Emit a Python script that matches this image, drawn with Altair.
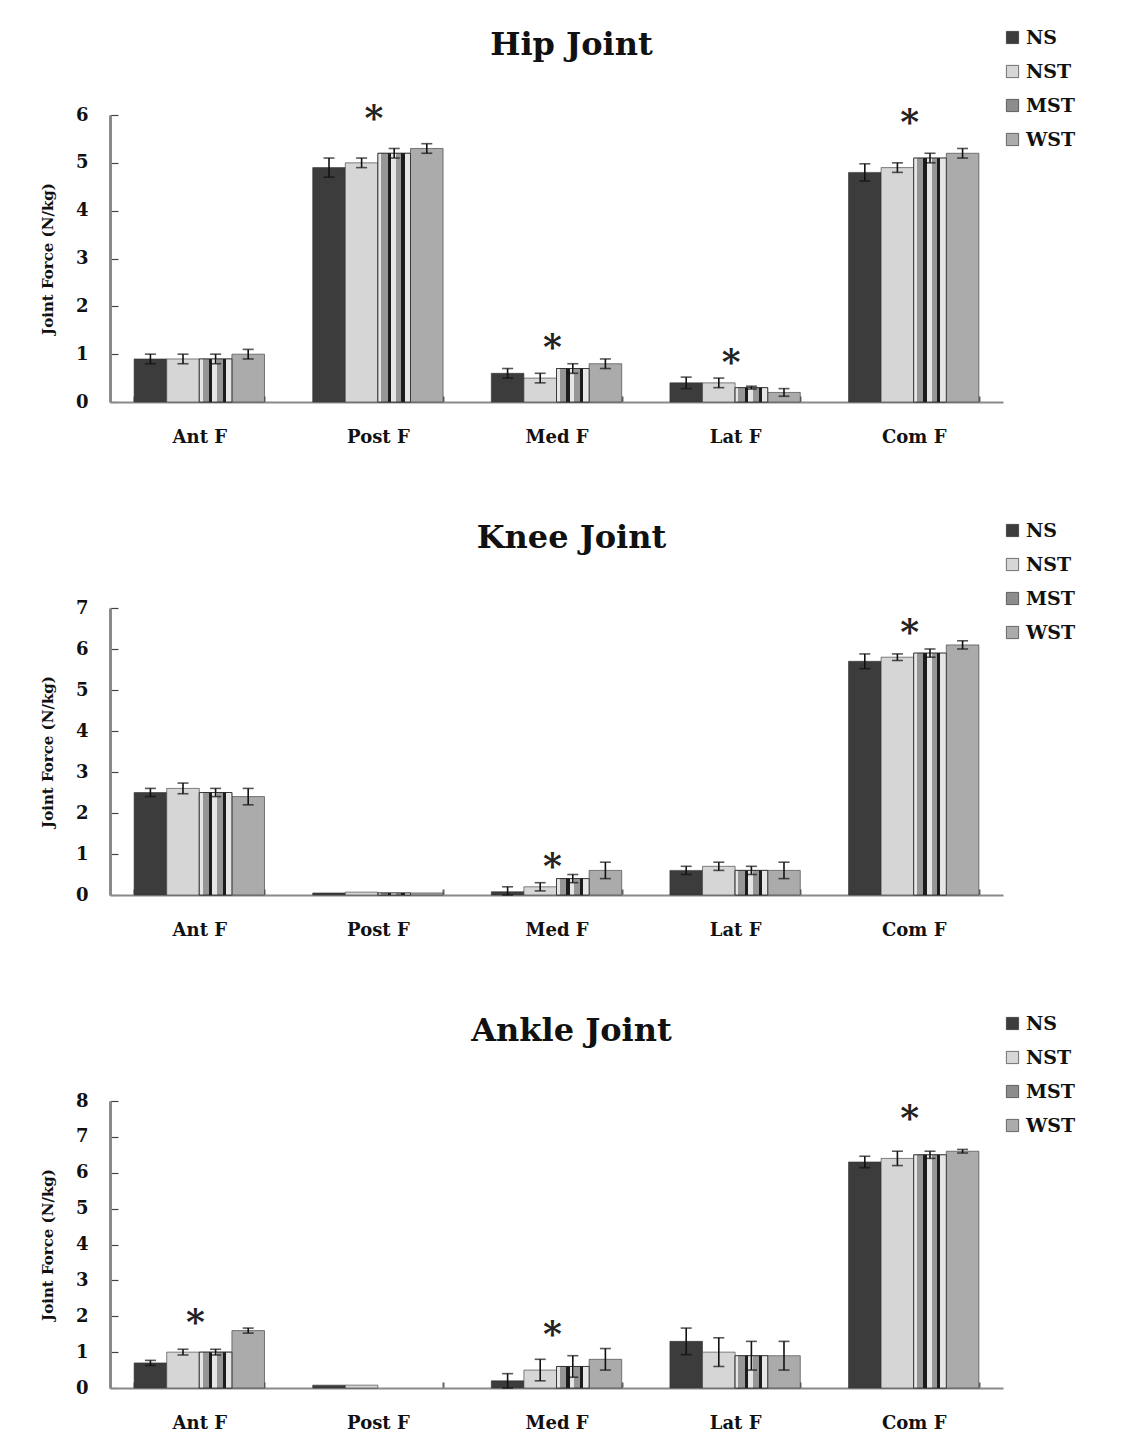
import altair as alt
import pandas as pd

categories = ["Ant F", "Post F", "Med F", "Lat F", "Com F"]
groups = ["NS", "NST", "MST", "WST"]

# Hip joint means / errors (order: Ant F, Post F, Med F, Lat F, Com F)
hip_ns = [0.9, 4.9, 0.6, 0.4, 4.8]
hip_nst = [0.9, 5.0, 0.5, 0.4, 4.9]
hip_mst = [0.9, 5.2, 0.7, 0.3, 5.1]
hip_wst = [1.0, 5.3, 0.8, 0.2, 5.2]
hip_ns_err = [0.1, 0.2, 0.1, 0.12, 0.18]
hip_nst_err = [0.1, 0.1, 0.1, 0.1, 0.1]
hip_mst_err = [0.1, 0.1, 0.1, 0.03, 0.1]
hip_wst_err = [0.1, 0.1, 0.1, 0.08, 0.1]

# Knee joint
knee_ns = [2.5, 0.05, 0.08, 0.6, 5.7]
knee_nst = [2.6, 0.07, 0.2, 0.7, 5.8]
knee_mst = [2.5, 0.05, 0.4, 0.6, 5.9]
knee_wst = [2.4, 0.05, 0.6, 0.6, 6.1]
knee_ns_err = [0.1, 0.0, 0.12, 0.1, 0.18]
knee_nst_err = [0.13, 0.0, 0.1, 0.1, 0.08]
knee_mst_err = [0.1, 0.0, 0.1, 0.1, 0.1]
knee_wst_err = [0.2, 0.0, 0.2, 0.2, 0.1]

# Ankle joint
ankle_ns = [0.7, 0.08, 0.2, 1.3, 6.3]
ankle_nst = [1.0, 0.08, 0.5, 1.0, 6.4]
ankle_mst = [1.0, 0.0, 0.6, 0.9, 6.5]
ankle_wst = [1.6, 0.0, 0.8, 0.9, 6.6]
ankle_ns_err = [0.07, 0.0, 0.2, 0.37, 0.16]
ankle_nst_err = [0.08, 0.0, 0.3, 0.4, 0.2]
ankle_mst_err = [0.08, 0.0, 0.3, 0.4, 0.1]
ankle_wst_err = [0.07, 0.0, 0.3, 0.4, 0.05]

# Significance asterisks (category, height in N/kg)
hip_star_cat = ["Post F", "Med F", "Lat F", "Com F"]
hip_star_y = [6.13, 1.34, 1.03, 6.05]
knee_star_cat = ["Med F", "Com F"]
knee_star_y = [0.93, 6.63]
ankle_star_cat = ["Ant F", "Med F", "Com F"]
ankle_star_y = [2.1, 1.76, 7.78]

colors = ["#3c3c3c", "#d6d6d6", "#8c8c8c", "#ababab"]
SERIF = "DejaVu Serif"

mst_gradient = alt.LinearGradient(
    gradient="linear", x1=0, x2=1, y1=0, y2=0,
    stops=[
        alt.GradientStop(color="#e6e6e6", offset=0.0),
        alt.GradientStop(color="#e6e6e6", offset=0.1),
        alt.GradientStop(color="#969696", offset=0.1),
        alt.GradientStop(color="#969696", offset=0.3),
        alt.GradientStop(color="#1c1c1c", offset=0.3),
        alt.GradientStop(color="#1c1c1c", offset=0.4),
        alt.GradientStop(color="#e6e6e6", offset=0.4),
        alt.GradientStop(color="#e6e6e6", offset=0.55),
        alt.GradientStop(color="#969696", offset=0.55),
        alt.GradientStop(color="#969696", offset=0.72),
        alt.GradientStop(color="#1c1c1c", offset=0.72),
        alt.GradientStop(color="#1c1c1c", offset=0.82),
        alt.GradientStop(color="#e6e6e6", offset=0.82),
        alt.GradientStop(color="#e6e6e6", offset=1.0),
    ],
)

W, H = 893, 287


def panel(title, means, errs, star_cat, star_y, ymax):
    rows = []
    for g, m, e in zip(groups, means, errs):
        for c, v, er in zip(categories, m, e):
            rows.append({"cat": c, "grp": g, "val": v, "lo": max(v - er, 0), "hi": v + er, "err": er})
    df = pd.DataFrame(rows)
    sdf = pd.DataFrame({"cat": star_cat, "sy": star_y})

    xscale = alt.Scale(domain=categories, paddingInner=0.27, paddingOuter=0.135)
    xaxis = alt.Axis(title=None, labelAngle=0, labelFont=SERIF, labelFontWeight="bold",
                     labelFontSize=18, labelColor="#111", labelPadding=26, ticks=False,
                     tickBand="extent", grid=True, gridColor="#666", gridWidth=2,
                     gridDash=[0, H - 6, 6, 4000],
                     domainColor="#8a8a8a", domainWidth=2)
    x = alt.X("cat:N", scale=xscale, axis=xaxis, sort=categories)
    xo = alt.XOffset("grp:N", scale=alt.Scale(domain=groups, paddingInner=0, paddingOuter=0))
    yscale = alt.Scale(domain=[0, ymax], nice=False)
    yaxis = alt.Axis(title="Joint Force (N/kg)", titleFont=SERIF, titleFontSize=15,
                     titleFontWeight="bold", titleColor="#111", titlePadding=20,
                     labelFont=SERIF, labelFontWeight="bold", labelFontSize=18, labelColor="#111",
                     values=list(range(0, ymax + 1)), format="d",
                     grid=True, gridDash=[8, 4000], gridColor="#444", gridWidth=1.2,
                     domainColor="#8a8a8a", domainWidth=3, ticks=False,
                     labelPadding=22)

    base = alt.Chart(df)
    bars = base.transform_filter(alt.datum.val > 0).mark_bar(stroke="#333", strokeWidth=0.6).encode(
        x=x, xOffset=xo,
        y=alt.Y("val:Q", scale=yscale, axis=yaxis),
        color=alt.Color("grp:N", scale=alt.Scale(domain=groups, range=colors),
                        legend=alt.Legend(title=None, orient="none", legendX=893, legendY=-87,
                                          symbolType="square", symbolSize=150,
                                          symbolStrokeColor="#222", symbolStrokeWidth=0.6,
                                          labelFont=SERIF, labelFontWeight="bold",
                                          labelFontSize=19, labelColor="#111",
                                          rowPadding=14, labelOffset=4)),
    )
    mst = base.transform_filter((alt.datum.grp == "MST") & (alt.datum.val > 0)).mark_bar(
        fill=mst_gradient, stroke="#222", strokeWidth=0.8
    ).encode(x=x, xOffset=xo, y=alt.Y("val:Q", scale=yscale, axis=yaxis))
    eb = base.transform_filter(alt.datum.err > 0)
    rule = eb.mark_rule(color="#111", strokeWidth=1.6).encode(
        x=x, xOffset=xo, y=alt.Y("lo:Q", scale=yscale, axis=yaxis), y2="hi:Q")
    cap_top = eb.mark_tick(color="#111", thickness=1.6, size=11).encode(
        x=x, xOffset=xo, y=alt.Y("hi:Q", scale=yscale, axis=yaxis))
    cap_bot = eb.mark_tick(color="#111", thickness=1.6, size=11).encode(
        x=x, xOffset=xo, y=alt.Y("lo:Q", scale=yscale, axis=yaxis))
    stars = alt.Chart(sdf).mark_text(text="*", font=SERIF, fontSize=36, fontWeight="bold",
                                     color="#222", baseline="middle", dy=10, dx=-4).encode(
        x=x, y=alt.Y("sy:Q", scale=yscale, axis=yaxis))

    return alt.layer(bars, mst, rule, cap_top, cap_bot, stars).properties(
        width=W, height=H,
        title=alt.TitleParams(title, font=SERIF, fontSize=32, fontWeight="bold", color="#111",
                              offset=-34, dx=15, frame="group", anchor="middle"),
    )


hip = panel("Hip Joint",
            [hip_ns, hip_nst, hip_mst, hip_wst],
            [hip_ns_err, hip_nst_err, hip_mst_err, hip_wst_err],
            hip_star_cat, hip_star_y, 6)
knee = panel("Knee Joint",
             [knee_ns, knee_nst, knee_mst, knee_wst],
             [knee_ns_err, knee_nst_err, knee_mst_err, knee_wst_err],
             knee_star_cat, knee_star_y, 7)
ankle = panel("Ankle Joint",
              [ankle_ns, ankle_nst, ankle_mst, ankle_wst],
              [ankle_ns_err, ankle_nst_err, ankle_mst_err, ankle_wst_err],
              ankle_star_cat, ankle_star_y, 8)

chart = alt.vconcat(hip, knee, ankle, spacing=75).resolve_scale(color="independent").properties(
    padding={"left": 40, "top": 28, "right": 5, "bottom": 5},
    background="white",
).configure_view(stroke=None)

chart.save("out.html", embed_options={"renderer": "svg", "actions": False})
